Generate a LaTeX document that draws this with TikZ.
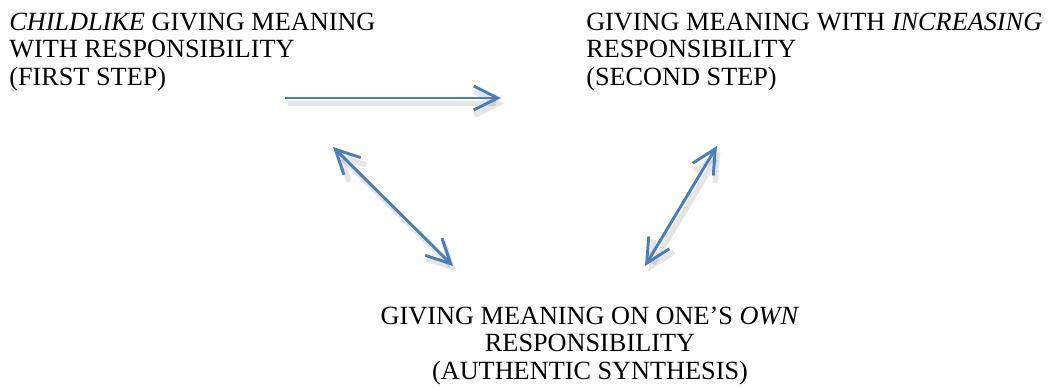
\documentclass[tikz,border=0pt]{standalone}
\usepackage{fontspec}
\setmainfont{Liberation Serif}
\usetikzlibrary{arrows.meta}
\definecolor{linkblue}{RGB}{74,126,187}
\tikzstyle{phase}=[inner sep=0pt, font=\fontsize{19.7}{20.6}\selectfont]
\tikzstyle{link}=[draw=linkblue, line width=2.2pt,
  preaction={draw=black, opacity=0.1, line width=4pt, transform canvas={shift={(2.5pt,-4pt)}}}]

\begin{document}
\begin{tikzpicture}[x=0.75pt,y=-0.75pt,
    >={Straight Barb[length=18pt,width=18pt]}]
    \useasboundingbox (0,0) rectangle (1049,387);

    \node[phase, anchor=base west, align=left](first) at (9,85)
      {\textit{CHILDLIKE} GIVING MEANING\\WITH RESPONSIBILITY\\(FIRST STEP)};
    \node[phase, anchor=base west, align=left](second) at (586,85)
      {GIVING MEANING WITH \textit{INCREASING}\\RESPONSIBILITY\\(SECOND STEP)};
    \node[phase, anchor=base, align=center](synth) at (590,379)
      {GIVING MEANING ON ONE'S \textit{OWN}\\RESPONSIBILITY\\(AUTHENTIC SYNTHESIS)};

    \coordinate (first_out) at (285,98);
    \coordinate (second_in) at (501,98);
    \coordinate (first_low) at (333,147);
    \coordinate (synth_left) at (453,266);
    \coordinate (second_low) at (717,146);
    \coordinate (synth_right) at (645,266);

    \draw[link, ->](first_out) -- (second_in);
    \draw[link, <->](first_low) -- (synth_left);
    \draw[link, <->](second_low) -- (synth_right);
  \end{tikzpicture}
\end{document}
